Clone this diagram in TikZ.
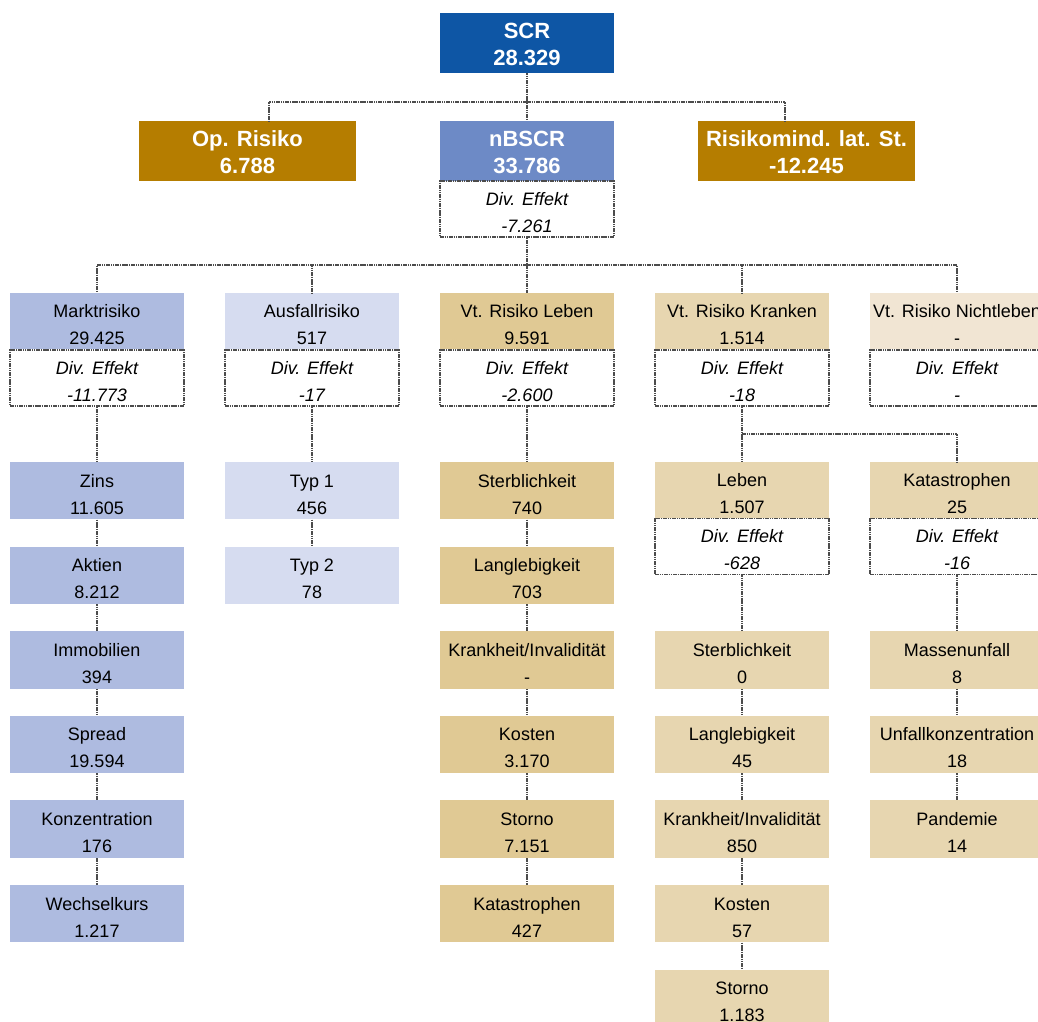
\documentclass[tikz,border=0pt]{standalone}
\usepackage{fontspec}
\setmainfont{Liberation Sans}
\usetikzlibrary{calc}
\definecolor{cSCR}{HTML}{0E56A5}
\definecolor{cGold}{HTML}{B57D00}
\definecolor{cNB}{HTML}{6D8AC6}
\definecolor{cMarkt}{HTML}{AEBBE0}
\definecolor{cAusf}{HTML}{D6DCF0}
\definecolor{cLeben}{HTML}{E0C994}
\definecolor{cKrank}{HTML}{E7D6B0}
\definecolor{cNicht}{HTML}{F1E5D3}
\definecolor{cLine}{HTML}{4C4C4C}
\tikzset{
 topbox/.style={minimum width=130.5pt, minimum height=45pt, inner sep=0pt, align=center, text=white, font=\fontsize{16.5}{20}\selectfont\bfseries, text height=33pt, text depth=0pt},
 widebox/.style={topbox, minimum width=162.75pt},
 riskbox/.style={minimum width=130.5pt, minimum height=42pt, inner sep=0pt, align=center, font=\fontsize{13.5}{20.25}\selectfont, text height=35pt, text depth=0pt},
 subbox/.style={riskbox, minimum height=43pt},
 divbox/.style={riskbox, fill=white, draw=cLine, line width=1.1pt, dash pattern=on 1.2pt off 0.5pt, font=\fontsize{13.5}{20.25}\selectfont\itshape},
 conn/.style={draw=cLine, line width=1.1pt, dash pattern=on 1.2pt off 0.5pt},
}
\begin{document}
\begin{tikzpicture}[x=0.75pt, y=-0.75pt]
\useasboundingbox (0,0) rectangle (1038,1021);
% top level
\node[topbox, fill=cSCR] (scr) at (527,43) {SCR\\28.329};
\node[widebox, fill=cGold] (op) at (247.5,151) {Op. Risiko\\6.788};
\node[topbox, fill=cNB] (nb) at (527,151) {nBSCR\\33.786};
\node[widebox, fill=cGold] (rm) at (806.5,151) {Risikomind. lat. St.\\-12.245};
\node[divbox] (nbdiv) at (527,209) {Div. Effekt\\-7.261};
% level 2
\node[riskbox, fill=cMarkt] (markt) at (97,321) {Marktrisiko\\29.425};
\node[divbox] (mdiv) at (97,378) {Div. Effekt\\-11.773};
\node[riskbox, fill=cAusf] (ausf) at (312,321) {Ausfallrisiko\\517};
\node[divbox] (adiv) at (312,378) {Div. Effekt\\-17};
\node[riskbox, fill=cLeben] (leben) at (527,321) {Vt. Risiko Leben\\9.591};
\node[divbox] (ldiv) at (527,378) {Div. Effekt\\-2.600};
\node[riskbox, fill=cKrank] (krank) at (742,321) {Vt. Risiko Kranken\\1.514};
\node[divbox] (kdiv) at (742,378) {Div. Effekt\\-18};
\node[riskbox, fill=cNicht] (nicht) at (957,321) {Vt. Risiko Nichtleben\\-};
\node[divbox] (ndiv) at (957,378) {Div. Effekt\\-};
% Markt children
\node[subbox, fill=cMarkt] (m1) at (97,490.75) {Zins\\11.605};
\node[subbox, fill=cMarkt] (m2) at (97,575.35) {Aktien\\8.212};
\node[subbox, fill=cMarkt] (m3) at (97,659.95) {Immobilien\\394};
\node[subbox, fill=cMarkt] (m4) at (97,744.55) {Spread\\19.594};
\node[subbox, fill=cMarkt] (m5) at (97,829.15) {Konzentration\\176};
\node[subbox, fill=cMarkt] (m6) at (97,913.75) {Wechselkurs\\1.217};
% Ausfall children
\node[subbox, fill=cAusf] (a1) at (312,490.75) {Typ 1\\456};
\node[subbox, fill=cAusf] (a2) at (312,575.35) {Typ 2\\78};
% Leben children
\node[subbox, fill=cLeben] (l1) at (527,490.75) {Sterblichkeit\\740};
\node[subbox, fill=cLeben] (l2) at (527,575.35) {Langlebigkeit\\703};
\node[subbox, fill=cLeben] (l3) at (527,659.95) {Krankheit/Invalidität\\-};
\node[subbox, fill=cLeben] (l4) at (527,744.55) {Kosten\\3.170};
\node[subbox, fill=cLeben] (l5) at (527,829.15) {Storno\\7.151};
\node[subbox, fill=cLeben] (l6) at (527,913.75) {Katastrophen\\427};
% Kranken sub-levels
\node[riskbox, fill=cKrank] (kl) at (742,490) {Leben\\1.507};
\node[divbox] (kldiv) at (742,546.5) {Div. Effekt\\-628};
\node[riskbox, fill=cKrank] (kk) at (957,490) {Katastrophen\\25};
\node[divbox] (kkdiv) at (957,546.5) {Div. Effekt\\-16};
\node[subbox, fill=cKrank] (kl1) at (742,659.95) {Sterblichkeit\\0};
\node[subbox, fill=cKrank] (kl2) at (742,744.55) {Langlebigkeit\\45};
\node[subbox, fill=cKrank] (kl3) at (742,829.15) {Krankheit/Invalidität\\850};
\node[subbox, fill=cKrank] (kl4) at (742,913.75) {Kosten\\57};
\node[subbox, fill=cKrank] (kl5) at (742,998.35) {Storno\\1.183};
\node[subbox, fill=cKrank] (kk1) at (957,659.95) {Massenunfall\\8};
\node[subbox, fill=cKrank] (kk2) at (957,744.55) {Unfallkonzentration\\18};
\node[subbox, fill=cKrank] (kk3) at (957,829.15) {Pandemie\\14};
% connectors
\coordinate (b1) at (527,102);
\draw[conn] (scr.south) -- (b1) -- (nb.north);
\draw[conn] (b1) -| ($(op.north)+(21.5,0)$);
\draw[conn] (b1) -| ($(rm.north)+(-21.5,0)$);
\coordinate (b2) at (527,265);
\draw[conn] (nbdiv.south) -- (b2);
\foreach \n in {markt,ausf,leben,krank,nicht} \draw[conn] (b2) -| (\n.north);
\coordinate (b3) at (742,434);
\draw[conn] (kdiv.south) -- (kl.north);
\draw[conn] (b3) -| (kk.north);
\draw[conn] (mdiv.south) -- (m1.north);
\draw[conn] (m1.south) -- (m2.north);
\draw[conn] (m2.south) -- (m3.north);
\draw[conn] (m3.south) -- (m4.north);
\draw[conn] (m4.south) -- (m5.north);
\draw[conn] (m5.south) -- (m6.north);
\draw[conn] (adiv.south) -- (a1.north);
\draw[conn] (a1.south) -- (a2.north);
\draw[conn] (ldiv.south) -- (l1.north);
\draw[conn] (l1.south) -- (l2.north);
\draw[conn] (l2.south) -- (l3.north);
\draw[conn] (l3.south) -- (l4.north);
\draw[conn] (l4.south) -- (l5.north);
\draw[conn] (l5.south) -- (l6.north);
\draw[conn] (kldiv.south) -- (kl1.north);
\draw[conn] (kl1.south) -- (kl2.north);
\draw[conn] (kl2.south) -- (kl3.north);
\draw[conn] (kl3.south) -- (kl4.north);
\draw[conn] (kl4.south) -- (kl5.north);
\draw[conn] (kkdiv.south) -- (kk1.north);
\draw[conn] (kk1.south) -- (kk2.north);
\draw[conn] (kk2.south) -- (kk3.north);
\end{tikzpicture}
\end{document}
